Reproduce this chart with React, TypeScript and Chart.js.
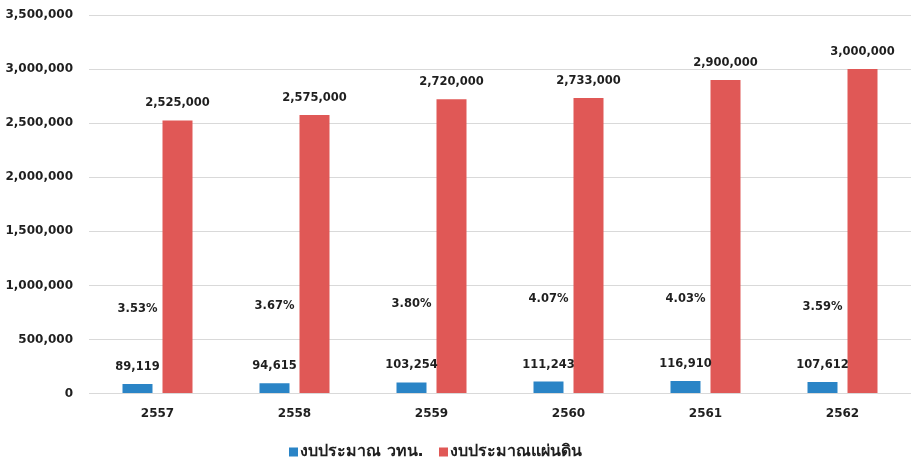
import React, { useEffect, useRef } from "react";
import { Chart, registerables } from "chart.js";

Chart.register(...registerables);

// Fiscal years (Buddhist Era)
const years = ["2557", "2558", "2559", "2560", "2561", "2562"];
// STI budget (million baht)
const stiBudget = [89119, 94615, 103254, 111243, 116910, 107612];
// National budget (million baht)
const nationalBudget = [2525000, 2575000, 2720000, 2733000, 2900000, 3000000];
// STI budget as share of national budget (%)
const stiShare = [3.53, 3.67, 3.8, 4.07, 4.03, 3.59];

const seriesNames = ["งบประมาณ วทน.", "งบประมาณแผ่นดิน"];
const yTicks = [0, 500000, 1000000, 1500000, 2000000, 2500000, 3000000, 3500000];

const BLUE = "#2A84C6";
const RED = "#E05856";
const TEXT = "#1f1f1f";
const FONT = "'DejaVu Sans', 'Noto Sans', sans-serif";

const fmt = (v: number) => v.toLocaleString("en-US");

const labelPlugin = {
  id: "valueLabels",
  afterDatasetsDraw(chart: any) {
    const ctx = chart.ctx;
    const y1 = chart.scales.y1;
    ctx.save();
    ctx.fillStyle = TEXT;
    ctx.textAlign = "center";
    ctx.textBaseline = "middle";
    ctx.font = `bold 11.5px ${FONT}`;
    [0, 1].forEach((di) => {
      const meta = chart.getDatasetMeta(di);
      const data = chart.data.datasets[di].data as number[];
      meta.data.forEach((bar: any, i: number) => {
        ctx.fillText(fmt(data[i]), bar.x, bar.y - 17);
      });
    });
    const blueMeta = chart.getDatasetMeta(0);
    stiShare.forEach((p, i) => {
      const x = blueMeta.data[i].x;
      ctx.fillText(p.toFixed(2) + "%", x, y1.getPixelForValue(p));
    });

    // legend along the bottom
    const colors = [BLUE, RED];
    const startX = [289, 439];
    const cy = chart.height - 12;
    ctx.textAlign = "left";
    ctx.font = `bold 16px ${FONT}`;
    seriesNames.forEach((name, i) => {
      ctx.fillStyle = colors[i];
      ctx.fillRect(startX[i], cy - 4.5, 9, 9);
      ctx.fillStyle = TEXT;
      ctx.fillText(name, startX[i] + 11, cy);
    });
    ctx.restore();
  },
};

export default function App() {
  const ref = useRef<HTMLCanvasElement>(null);
  useEffect(() => {
    if (!ref.current) return;
    const chart = new Chart(ref.current, {
      type: "bar",
      data: {
        labels: years,
        datasets: [
          {
            label: seriesNames[0],
            data: stiBudget,
            backgroundColor: BLUE,
            categoryPercentage: 0.584,
            barPercentage: 0.75,
            yAxisID: "y",
          },
          {
            label: seriesNames[1],
            data: nationalBudget,
            backgroundColor: RED,
            categoryPercentage: 0.584,
            barPercentage: 0.75,
            yAxisID: "y",
          },
          {
            type: "line",
            label: "share",
            data: stiShare,
            yAxisID: "y1",
            showLine: false,
            pointRadius: 0,
            borderColor: "transparent",
            backgroundColor: "transparent",
          } as any,
        ],
      },
      options: {
        animation: false,
        responsive: false,
        maintainAspectRatio: false,
        layout: { padding: { left: 6, right: 0, top: 15, bottom: 38 } },
        scales: {
          x: {
            grid: { display: false },
            border: { display: false },
            ticks: {
              color: TEXT,
              font: { family: FONT, size: 12, weight: "bold" },
              padding: 5,
            },
          },
          y: {
            min: 0,
            max: 3500000,
            afterFit: (s: any) => {
              s.width = 83;
            },
            afterBuildTicks: (s: any) => {
              s.ticks = yTicks.map((v) => ({ value: v }));
            },
            grid: {
              color: "#d9d9d9",
              lineWidth: 1,
              drawTicks: true,
              tickLength: 16,
              tickColor: "rgba(0,0,0,0)",
            },
            border: { display: false },
            ticks: {
              color: TEXT,
              font: { family: FONT, size: 12, weight: "bold" },
              padding: 0,
              callback: (v: any) => fmt(Number(v)),
            },
          },
          y1: {
            display: false,
            min: -1.06,
            max: 19.37,
          },
        },
        plugins: {
          legend: { display: false },
          tooltip: { enabled: false },
        },
      },
      plugins: [labelPlugin],
    });
    return () => chart.destroy();
  }, []);
  return (
    <div style={{ position: "fixed", left: 0, top: 0, width: 911, height: 464, background: "#fff" }}>
      <canvas ref={ref} width={911} height={464} style={{ width: 911, height: 464 }} />
    </div>
  );
}
